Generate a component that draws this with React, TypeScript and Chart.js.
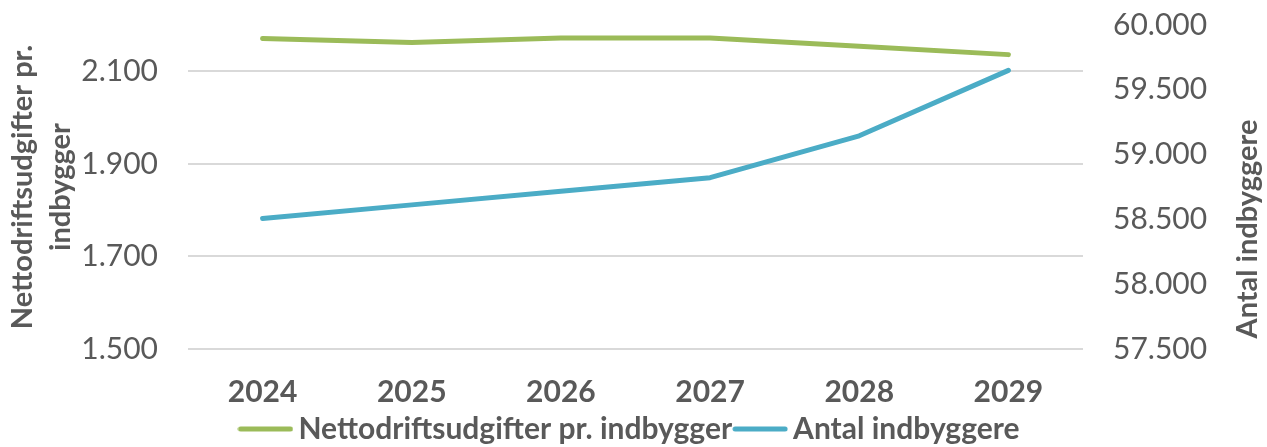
import React, { useEffect, useRef } from "react";
import { Chart, registerables } from "chart.js";

Chart.register(...registerables);

const years = ["2024", "2025", "2026", "2027", "2028", "2029"];
const nettoPerInd = [2171, 2162, 2172, 2172, 2154, 2136];
const antalInd = [58507, 58612, 58718, 58822, 59145, 59650];
const leftTicks = [1500, 1700, 1900, 2100];
const rightTicks = [57500, 58000, 58500, 59000, 59500, 60000];
const leftTitle = ["Nettodriftsudgifter pr.", "indbygger"];
const rightTitle = "Antal indbyggere";
const nettoLabel = "Nettodriftsudgifter pr. indbygger";
const antalLabel = "Antal indbyggere";

const GREEN = "#9BBB59";
const BLUE = "#4BACC6";
const TEXT = "#595959";
const FONT = "Lato, 'Open Sans', sans-serif";

const fmt = (v: number) =>
  String(Math.round(v)).replace(/\B(?=(\d{3})+(?!\d))/g, ".");

function legendLine(color: string) {
  const c = document.createElement("canvas");
  c.width = 56;
  c.height = 8;
  const g = c.getContext("2d")!;
  g.strokeStyle = color;
  g.lineWidth = 5;
  g.lineCap = "round";
  g.beginPath();
  g.moveTo(3, 4);
  g.lineTo(53, 4);
  g.stroke();
  return c;
}

const rightTitlePlugin = {
  id: "rightTitle",
  afterDraw(chart: any) {
    const { ctx, chartArea } = chart;
    ctx.save();
    ctx.font = `bold 29px ${FONT}`;
    ctx.fillStyle = TEXT;
    ctx.textAlign = "center";
    ctx.textBaseline = "middle";
    const cx = chart.width - 19;
    const cy = (chartArea.top + chartArea.bottom) / 2 + 42;
    ctx.translate(cx, cy);
    ctx.rotate(-Math.PI / 2);
    ctx.fillText(rightTitle, 0, 0);
    ctx.restore();
  },
};

export default function App() {
  const ref = useRef<HTMLCanvasElement | null>(null);
  useEffect(() => {
    if (!ref.current) return;
    const chart = new Chart(ref.current, {
      type: "line",
      data: {
        labels: years,
        datasets: [
          {
            label: nettoLabel,
            data: nettoPerInd,
            borderColor: GREEN,
            backgroundColor: GREEN,
            borderWidth: 5,
            pointRadius: 0,
            pointStyle: legendLine(GREEN) as any,
            borderCapStyle: "round",
            borderJoinStyle: "round",
            yAxisID: "y",
            tension: 0,
          },
          {
            label: antalLabel,
            data: antalInd,
            borderColor: BLUE,
            backgroundColor: BLUE,
            borderWidth: 5,
            pointRadius: 0,
            pointStyle: legendLine(BLUE) as any,
            borderCapStyle: "round",
            borderJoinStyle: "round",
            yAxisID: "y1",
            tension: 0,
          },
        ],
      },
      options: {
        animation: false,
        responsive: true,
        maintainAspectRatio: false,
        layout: { padding: { top: 25, left: 0, right: 0, bottom: -7 } },
        plugins: {
          tooltip: { enabled: false },
          legend: {
            position: "bottom",
            labels: {
              usePointStyle: true,
              pointStyleWidth: 36,
              padding: 10,
              color: TEXT,
              font: { family: FONT, size: 30, weight: "bold" },
            },
          },
        },
        scales: {
          x: {
            offset: true,
            grid: { display: false },
            border: { display: false },
            ticks: {
              color: TEXT,
              padding: 17,
              font: { family: FONT, size: 30, weight: "bold" },
            },
            afterFit: (s: any) => {
              s.height = 55;
            },
          },
          y: {
            position: "left",
            min: 1500,
            max: 2200,
            border: { display: false },
            grid: { color: "#D9D9D9", lineWidth: 2, drawTicks: false },
            ticks: {
              padding: 30,
              color: TEXT,
              font: { family: FONT, size: 30 },
              callback: (v: any) => fmt(Number(v)),
            },
            afterBuildTicks: (s: any) => {
              s.ticks = leftTicks.map((value) => ({ value }));
            },
            title: {
              display: true,
              text: leftTitle,
              color: TEXT,
              padding: { top: 3, bottom: 0 },
              font: { family: FONT, size: 29, weight: "bold", lineHeight: 1.33 },
            },
            afterFit: (s: any) => {
              s.width = 188;
              s.paddingTop = 0;
              s.paddingBottom = 0;
            },
          },
          y1: {
            position: "right",
            min: 57500,
            max: 60000,
            border: { display: false },
            grid: { drawOnChartArea: false, drawTicks: false },
            ticks: {
              padding: 30,
              color: TEXT,
              font: { family: FONT, size: 30 },
              callback: (v: any) => fmt(Number(v)),
            },
            afterBuildTicks: (s: any) => {
              s.ticks = rightTicks.map((value) => ({ value }));
            },
            afterFit: (s: any) => {
              s.width = 184;
              s.paddingTop = 0;
              s.paddingBottom = 0;
            },
          },
        },
      },
      plugins: [rightTitlePlugin],
    });
    return () => chart.destroy();
  }, []);

  return (
    <div
      style={{
        position: "fixed",
        left: 0,
        top: 0,
        width: 1267,
        height: 447,
        background: "#fff",
      }}
    >
      <canvas ref={ref} />
    </div>
  );
}
